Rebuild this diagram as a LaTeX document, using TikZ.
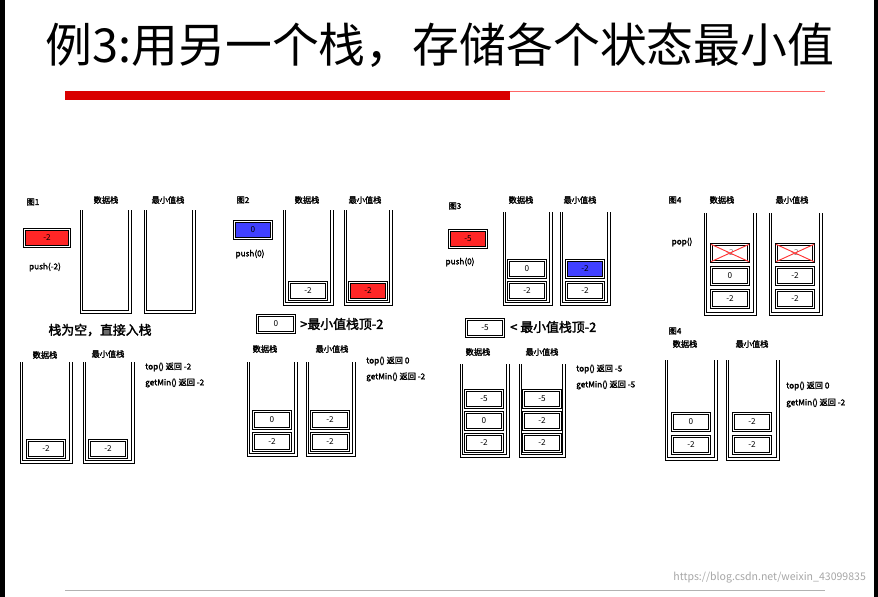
\documentclass[tikz,border=0pt]{standalone}
\usepackage{fontspec}
\setmainfont{Noto Sans CJK SC}[AutoFakeBold=2]
\usetikzlibrary{positioning}
\tikzset{
stkline/.style={draw=black,line width=0.7pt},
cell/.style={draw,line width=0.6pt,double,double distance=0.9pt,minimum width=1.12cm,minimum height=0.5cm,inner sep=0pt,font=\fontsize{7}{8}\selectfont},
lbl/.style={font=\fontsize{7}{8}\selectfont\bfseries,inner sep=0pt},
info/.style={font=\fontsize{7}{8}\selectfont\bfseries,inner sep=0pt,anchor=west},
cmp/.style={font=\fontsize{11}{13}\selectfont\bfseries,inner sep=0pt,anchor=west}
}
\begin{document}
\begin{tikzpicture}[x=0.03cm,y=-0.03cm]
\useasboundingbox (0,0) rectangle (878,597);
\fill (0,0) rectangle (5,597);
\fill (874,0) rectangle (878,597);
\node (title) at (440,45) {\fontsize{40}{46}\selectfont 例3:用另一个栈，存储各个状态最小值};
\fill[red!85!black] (65,91) rectangle (510,100);
\draw[red!60,line width=0.6pt] (510,91.5) -- (825,91.5);
\draw[gray!60,line width=0.5pt] (65,590) -- (825,590);
\node[anchor=east,gray!70,font=\fontsize{9}{10}\selectfont] (mark) at (870,578) {https://blog.csdn.net/weixin\_43099835};

% stacks: left x / top y / right x / bottom y
\foreach \l/\t/\r/\b in {80/210/131/313, 144/210/195/313, 20/362/72/463, 83/362/134/463,
  283/210/333/305, 344/210/392/305, 247/362/297/456, 306/362/355/456,
  503/212/552/305, 560/212/610/305, 460/364/509/457, 519/364/565/457,
  704/213/756/315, 769/213/822/315, 665/360/717/460, 726/360/779/460}
{
  \draw[stkline] (\l,\t) -- (\l,\b) -- (\r,\b) -- (\r,\t);
  \draw[stkline] (\l+2.5,\t) -- (\l+2.5,\b-2.5) -- (\r-2.5,\b-2.5) -- (\r-2.5,\t);
}

% fig 1
\node[lbl] (f1) at (33,202) {图1};
\node[cell,fill=red!85,minimum width=1.35cm] (p1) at (47,238) {-2};
\node[lbl] (push1) at (45,267) {push(-2)};
\node[lbl] (d1) at (106,200) {数据栈};
\node[lbl] (m1) at (168,200) {最小值栈};
\node[font=\fontsize{11}{13}\selectfont\bfseries] (empty) at (100,330) {栈为空，直接入栈};
\node[lbl] (d1b) at (45,355) {数据栈};
\node[lbl] (m1b) at (108,354) {最小值栈};
\node[cell] (a1) at (46,449) {-2};
\node[cell] (b1) at (108,449) {-2};
\node[info] (t1) at (145,367) {top() 返回 -2};
\node[info] (g1) at (145,383) {getMin() 返回 -2};

% fig 2
\node[lbl] (f2) at (243,200) {图2};
\node[cell,fill=blue!75] (p2) at (253,230) {0};
\node[lbl] (push2) at (250,254) {push(0)};
\node[lbl] (d2) at (307,200) {数据栈};
\node[lbl] (m2) at (365,200) {最小值栈};
\node[cell] (a2) at (308,291) {-2};
\node[cell,fill=red!85] (b2) at (368,291) {-2};
\node[cell] (c2) at (276,324) {0};
\node[cmp] (cmp2) at (300,324) {>最小值栈顶-2};
\node[lbl] (d2b) at (265,349) {数据栈};
\node[lbl] (m2b) at (332,349) {最小值栈};
\node[cell] (a2b) at (272,420) {0};
\node[cell] (a2c) at (272,442) {-2};
\node[cell] (b2b) at (330,420) {-2};
\node[cell] (b2c) at (330,442) {-2};
\node[info] (t2) at (366,361) {top() 返回 0};
\node[info] (g2) at (366,377) {getMin() 返回 -2};

% fig 3
\node[lbl] (f3) at (455,206) {图3};
\node[cell,fill=red!85] (p3) at (468,239) {-5};
\node[lbl] (push3) at (460,262) {push(0)};
\node[lbl] (d3) at (521,200) {数据栈};
\node[lbl] (m3) at (580,200) {最小值栈};
\node[cell] (a3) at (527,269) {0};
\node[cell] (a3b) at (527,291) {-2};
\node[cell,fill=blue!75] (b3) at (585,269) {-2};
\node[cell] (b3b) at (585,291) {-2};
\node[cell] (c3) at (485,328) {-5};
\node[cmp] (cmp3) at (510,327) {< 最小值栈顶-2};
\node[lbl] (d3b) at (478,352) {数据栈};
\node[lbl] (m3b) at (542,352) {最小值栈};
\node[cell] (a3c) at (484,399) {-5};
\node[cell] (a3d) at (484,421) {0};
\node[cell] (a3e) at (484,443) {-2};
\node[cell] (b3c) at (542,399) {-5};
\node[cell] (b3d) at (542,421) {-2};
\node[cell] (b3e) at (542,443) {-2};
\node[info] (t3) at (576,369) {top() 返回 -5};
\node[info] (g3) at (576,385) {getMin() 返回 -5};

% fig 4
\node[lbl] (f4) at (675,200) {图4};
\node[lbl] (d4) at (722,200) {数据栈};
\node[lbl] (m4) at (792,200) {最小值栈};
\node[lbl] (pop4) at (682,242) {pop()};
\node[cell,text=gray] (x4a) at (730,253) {-2};
\node[cell] (a4) at (730,276) {0};
\node[cell] (a4b) at (730,299) {-2};
\node[cell,text=gray] (x4b) at (795,253) {-2};
\node[cell] (b4) at (795,276) {-2};
\node[cell] (b4b) at (795,299) {-2};
\draw[red!80,line width=0.8pt] (x4a.north west) -- (x4a.south east) (x4a.south west) -- (x4a.north east);
\draw[red!80,line width=0.8pt] (x4b.north west) -- (x4b.south east) (x4b.south west) -- (x4b.north east);
\node[lbl] (f4b) at (675,331) {图4};
\node[lbl] (d4b) at (685,344) {数据栈};
\node[lbl] (m4b) at (752,344) {最小值栈};
\node[cell] (a4c) at (691,422) {0};
\node[cell] (a4d) at (691,445) {-2};
\node[cell] (b4c) at (752,422) {-2};
\node[cell] (b4d) at (752,445) {-2};
\node[info] (t4) at (786,386) {top() 返回 0};
\node[info] (g4) at (786,403) {getMin() 返回 -2};
\end{tikzpicture}
\end{document}
